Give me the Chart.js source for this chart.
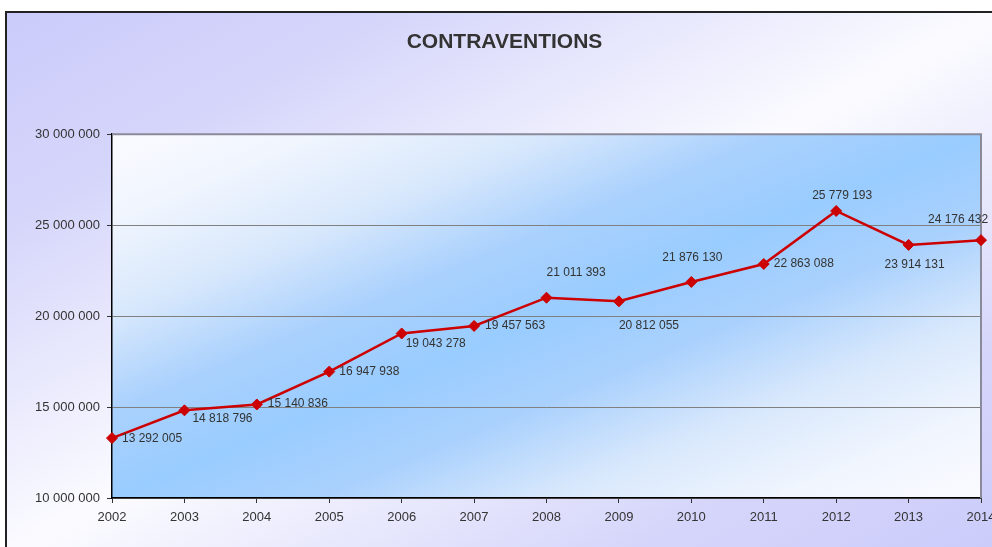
<!DOCTYPE html>
<html>
<head>
<meta charset="utf-8">
<script src="https://cdn.jsdelivr.net/npm/chart.js@4/dist/chart.umd.min.js"></script>
<style>
  html, body { margin: 0; padding: 0; background: #fff; overflow: hidden; }
  #wrap { width: 992px; height: 547px; }
</style>
</head>
<body>
<div id="wrap"><canvas id="myChart" width="992" height="547"></canvas></div>
<script>
// data
const years = ['2002', '2003', '2004', '2005', '2006', '2007', '2008', '2009', '2010', '2011', '2012', '2013', '2014'];
const contraventions = [13292005, 14818796, 15140836, 16947938, 19043278, 19457563, 21011393, 20812055, 21876130, 22863088, 25779193, 23914131, 24176432];
const yMin = 10000000;
const yMax = 30000000;
const yStep = 5000000;

const FONT = "'Liberation Sans', Arial, sans-serif";

function fmt(v) {
    return String(Math.round(v)).replace(/\B(?=(\d{3})+(?!\d))/g, ' ');
}

// where each value label sits relative to its point
const labelPlace = [
    { a: 'left', dx: 10, dy: 1 },
    { a: 'left', dx: 8, dy: 8 },
    { a: 'left', dx: 11, dy: -1 },
    { a: 'left', dx: 10, dy: 0 },
    { a: 'left', dx: 4, dy: 10 },
    { a: 'left', dx: 11, dy: 0 },
    { a: 'left', dx: 0, dy: -25 },
    { a: 'left', dx: 0, dy: 24 },
    { a: 'center', dx: 1, dy: -24 },
    { a: 'left', dx: 10, dy: 0 },
    { a: 'center', dx: 6, dy: -15 },
    { a: 'center', dx: 6, dy: 20 },
    { a: 'left', dx: -53, dy: -20 }
];

function diagGradient(ctx, x, y, w, h, stops) {
    // band runs from bottom-left to top-right
    const k = 2 * w * h / (w * w + h * h);
    const g = ctx.createLinearGradient(x, y, x + h * k, y + w * k);
    stops.forEach(s => g.addColorStop(s[0], s[1]));
    return g;
}

const backgroundPlugin = {
    id: 'backgrounds',
    beforeDraw(chart) {
        const ctx = chart.ctx;
        const W = chart.width, H = chart.height;
        ctx.save();
        ctx.fillStyle = '#fff';
        ctx.fillRect(0, 0, W, H);
        // outer frame
        const fx = 6, fy = 12, fw = W + 10 - fx, fh = H + 10 - fy;
        ctx.fillStyle = diagGradient(ctx, fx, fy, fw, fh,
            [[0, '#cbcbfb'], [0.2, '#d6d6fb'], [0.5, '#fbfbff'], [0.8, '#d6d6fb'], [1, '#cbcbfb']]);
        ctx.fillRect(fx, fy, fw, fh);
        ctx.strokeStyle = '#222';
        ctx.lineWidth = 2;
        ctx.strokeRect(fx, fy, fw, fh);
        // plot area
        const a = chart.chartArea;
        ctx.fillStyle = diagGradient(ctx, a.left, a.top, a.right - a.left, a.bottom - a.top,
            [[0, '#fafbff'], [0.12, '#f0f5fe'], [0.25, '#d8e8fc'], [0.38, '#aad1fd'], [0.5, '#99ccff'],
             [0.62, '#aad1fd'], [0.75, '#d8e8fc'], [0.88, '#f0f5fe'], [1, '#fafbff']]);
        ctx.fillRect(a.left, a.top, a.right - a.left, a.bottom - a.top);
        ctx.restore();
    },
    beforeDatasetsDraw(chart) {
        const ctx = chart.ctx;
        const a = chart.chartArea;
        ctx.save();
        ctx.strokeStyle = '#8a8a9a';
        ctx.lineWidth = 2;
        ctx.beginPath();
        ctx.moveTo(a.left, a.top);
        ctx.lineTo(a.right, a.top);
        ctx.lineTo(a.right, a.bottom);
        ctx.stroke();
        ctx.restore();
    },
    afterDatasetsDraw(chart) {
        const ctx = chart.ctx;
        const meta = chart.getDatasetMeta(0);
        ctx.save();
        ctx.font = '12px ' + FONT;
        ctx.fillStyle = '#333';
        ctx.textBaseline = 'middle';
        meta.data.forEach((pt, i) => {
            const p = labelPlace[i];
            ctx.textAlign = p.a;
            ctx.fillText(fmt(contraventions[i]), pt.x + p.dx, pt.y + p.dy);
        });
        ctx.restore();
    }
};

var ctx = document.getElementById('myChart').getContext('2d');
var chart = new Chart(ctx, {
    type: 'line',
    data: {
        labels: years,
        datasets: [{
            label: 'Contraventions',
            data: contraventions,
            borderColor: '#cc0000',
            backgroundColor: '#cc0000',
            borderWidth: 2.5,
            pointStyle: 'rectRot',
            pointRadius: 5.5,
            pointBorderWidth: 1,
            tension: 0,
            clip: false
        }]
    },
    options: {
        responsive: false,
        animation: false,
        layout: { padding: { left: 28, right: 11, top: 0, bottom: 0 } },
        plugins: {
            legend: { display: false },
            tooltip: { enabled: false },
            title: {
                display: true,
                text: 'CONTRAVENTIONS',
                color: '#333',
                font: { family: FONT, size: 21, weight: 'bold' },
                padding: { top: 30, bottom: 79 }
            }
        },
        scales: {
            x: {
                offset: false,
                grid: { drawOnChartArea: false, tickLength: 5, tickColor: '#333' },
                border: { color: '#000', width: 1.5 },
                ticks: { color: '#333', font: { family: FONT, size: 13 }, padding: 7, maxRotation: 0, autoSkip: false },
                afterFit: function (s) { s.height = 49; s.paddingRight = 0; s.paddingLeft = 0; }
            },
            y: {
                min: yMin,
                max: yMax,
                grid: { color: '#808080', tickLength: 5, tickColor: '#333' },
                border: { color: '#000', width: 1.5 },
                ticks: { stepSize: yStep, color: '#333', font: { family: FONT, size: 13 }, padding: 7, callback: v => fmt(v) },
                afterFit: function (s) { s.width = 84; }
            }
        }
    },
    plugins: [backgroundPlugin]
});
</script>
</body>
</html>
